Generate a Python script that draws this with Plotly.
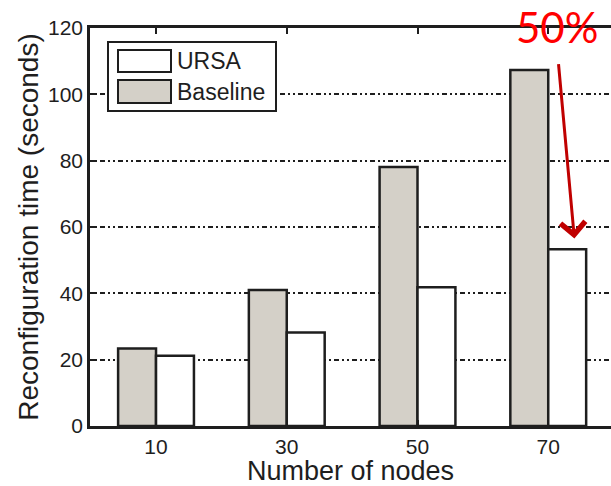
import plotly.graph_objects as go

# Data
nodes = ["10", "30", "50", "70"]
baseline = [23.4, 41.0, 78.1, 107.3]
ursa = [21.2, 28.2, 41.8, 53.3]
series_names = ["URSA", "Baseline"]
y_ticks = [0, 20, 40, 60, 80, 100, 120]

GRAY = "#d4d0c8"
INK = "#1e1e1e"
FONT = "Liberation Sans, Arial, sans-serif"

xpos = list(range(1, len(nodes) + 1))

fig = go.Figure()
fig.add_trace(go.Bar(x=xpos, y=baseline, name="Baseline", marker=dict(color=GRAY, line=dict(color=INK, width=2.5)), showlegend=False))
fig.add_trace(go.Bar(x=xpos, y=ursa, name="URSA", marker=dict(color="white", line=dict(color=INK, width=2.5)), showlegend=False))

# invisible trace to carry the top axis with inward ticks
fig.add_trace(go.Scatter(x=xpos, y=[None] * len(xpos), xaxis="x2", showlegend=False, hoverinfo="skip"))

xr = [0.495, 4.48]
fig.update_layout(
    width=611, height=486,
    margin=dict(l=90, r=0, t=28, b=60),
    paper_bgcolor="white", plot_bgcolor="white",
    barmode="group", bargap=0.42, bargroupgap=0,
    font=dict(family=FONT, size=20, color=INK),
    xaxis=dict(
        range=xr, tickmode="array", tickvals=xpos, ticktext=nodes,
        showline=True, linecolor=INK, linewidth=2.5,
        ticks="inside", ticklen=6, tickcolor=INK, tickwidth=2,
        showgrid=False, zeroline=False,
        tickfont=dict(size=21),
        title=dict(text="Number of nodes", font=dict(size=27), standoff=0),
    ),
    xaxis2=dict(
        range=xr, overlaying="x", side="top", anchor="y",
        tickmode="array", tickvals=xpos, showticklabels=False,
        showline=True, linecolor=INK, linewidth=2.5,
        ticks="inside", ticklen=6, tickcolor=INK, tickwidth=2,
        showgrid=False, zeroline=False,
    ),
    yaxis=dict(
        range=[0, 120], tickmode="array", tickvals=y_ticks,
        showline=True, linecolor=INK, linewidth=2.5,
        ticks="inside", ticklen=6, tickcolor=INK, tickwidth=2,
        showgrid=True, gridcolor=INK, gridwidth=1.5, griddash="2px,3px,2px,3px,5px,3px",
        zeroline=False, tickfont=dict(size=21),
        title=dict(text="Reconfiguration time (seconds)", font=dict(size=28), standoff=2),
    ),
)

# Legend box drawn in paper coordinates
pw, ph = 611 - 90, 486 - 28 - 60
def px(x):
    return (x - 90) / pw
def py(y):
    return (486 - 60 - y) / ph

fig.add_shape(type="rect", xref="paper", yref="paper", x0=px(108), x1=px(276), y0=py(111), y1=py(42),
              line=dict(color=INK, width=2), fillcolor="white", layer="above")
swatches = [("white", 50, 72), (GRAY, 80, 103)]
for (fill, y0, y1), name in zip(swatches, series_names):
    fig.add_shape(type="rect", xref="paper", yref="paper", x0=px(118), x1=px(171), y0=py(y1), y1=py(y0),
                  line=dict(color=INK, width=2), fillcolor=fill, layer="above")
    fig.add_annotation(xref="paper", yref="paper", x=px(175), y=py((y0 + y1) / 2), text=name,
                       showarrow=False, xanchor="left", yanchor="middle", font=dict(size=23, color=INK))

# Highlight of the reduction at 70 nodes
fig.add_annotation(xref="paper", yref="paper", x=px(557), y=py(27), text="50%", showarrow=False,
                   xanchor="center", yanchor="middle", font=dict(family="Lato, sans-serif", size=42, color="#ff0000"))
fig.add_annotation(xref="x", yref="y", x=4.2, y=56.5, ax=-16, ay=-176, axref="pixel", ayref="pixel",
                   text="", showarrow=True, arrowhead=4, arrowsize=1.6, arrowwidth=3, arrowcolor="#c00000")

fig.write_html("out.html")
